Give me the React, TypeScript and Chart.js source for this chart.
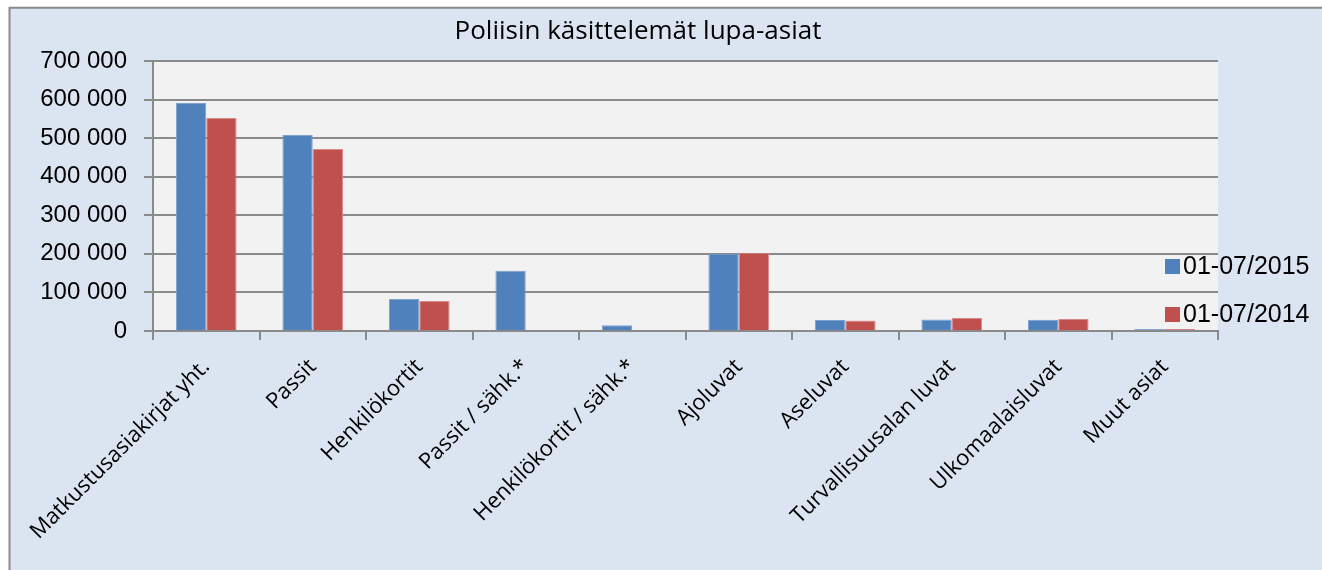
import React, { useEffect, useRef } from "react";
import { Chart, registerables } from "chart.js";

Chart.register(...registerables);

const TITLE = "Poliisin käsittelemät lupa-asiat";
const CATEGORIES = [
  "Matkustusasiakirjat yht.",
  "Passit",
  "Henkilökortit",
  "Passit / sähk.*",
  "Henkilökortit / sähk.*",
  "Ajoluvat",
  "Aseluvat",
  "Turvallisuusalan luvat",
  "Ulkomaalaisluvat",
  "Muut asiat",
];
const SERIES_LABELS = ["01-07/2015", "01-07/2014"];
const SERIES_2015 = [591000, 508000, 83000, 156000, 15000, 200000, 28500, 30000, 29000, 5000];
const SERIES_2014 = [552000, 472000, 78000, null, null, 203000, 27000, 34000, 31000, 5500];
const Y_MIN = 0;
const Y_MAX = 700000;
const Y_STEP = 100000;

const COLORS = ["#4f81bd", "#c0504d"];
const BORDERS = ["#7f9fcf", "#d98a88"];
const GRID = "#8a8a8a";

const fmt = (v: number) => String(v).replace(/\B(?=(\d{3})+(?!\d))/g, " ");

const backgroundPlugin = {
  id: "bgFrame",
  beforeDraw(chart: any) {
    const { ctx, width, height, chartArea } = chart;
    ctx.save();
    ctx.fillStyle = "#ffffff";
    ctx.fillRect(0, 0, width, height);
    ctx.fillStyle = "#dbe5f1";
    ctx.fillRect(9, 7.5, width, height);
    ctx.strokeStyle = "#8a8a8a";
    ctx.lineWidth = 2;
    ctx.beginPath();
    ctx.moveTo(9.5, height + 5);
    ctx.lineTo(9.5, 7.8);
    ctx.lineTo(width + 5, 7.8);
    ctx.stroke();
    ctx.fillStyle = "#f2f2f2";
    ctx.fillRect(chartArea.left, chartArea.top, chartArea.right - chartArea.left, chartArea.bottom - chartArea.top);
    ctx.restore();
  },
  afterDraw(chart: any) {
    const { ctx } = chart;
    ctx.save();
    ctx.fillStyle = "#000000";
    ctx.font = "26px 'Open Sans'";
    ctx.textAlign = "center";
    ctx.textBaseline = "alphabetic";
    ctx.fillText(TITLE, 638, 39);
    const ys = [266.5, 314.5];
    chart.data.datasets.forEach((ds: any, i: number) => {
      ctx.fillStyle = ds.backgroundColor;
      ctx.fillRect(1165, ys[i] - 7.5, 15, 15);
      ctx.fillStyle = "#000000";
      ctx.font = "25px 'Liberation Sans'";
      ctx.textAlign = "left";
      ctx.textBaseline = "middle";
      ctx.fillText(ds.label, 1183, ys[i] + 1);
    });
    ctx.restore();
  },
};

export default function App() {
  const ref = useRef<HTMLCanvasElement | null>(null);
  useEffect(() => {
    let chart: any = null;
    let cancelled = false;
    const build = () => {
      if (cancelled || !ref.current) return;
      chart = new Chart(ref.current, {
        type: "bar",
        data: {
          labels: CATEGORIES,
          datasets: [
            {
              label: SERIES_LABELS[0],
              data: SERIES_2015,
              backgroundColor: COLORS[0],
              borderColor: BORDERS[0],
              borderWidth: 1,
              barPercentage: 1,
              categoryPercentage: 0.57,
            },
            {
              label: SERIES_LABELS[1],
              data: SERIES_2014,
              backgroundColor: COLORS[1],
              borderColor: BORDERS[1],
              borderWidth: 1,
              barPercentage: 1,
              categoryPercentage: 0.57,
            },
          ],
        },
        options: {
          responsive: false,
          animation: false,
          devicePixelRatio: 1,
          layout: { padding: { left: 0, top: 61, right: 104, bottom: 0 } },
          plugins: {
            legend: { display: false },
            title: { display: false },
            tooltip: { enabled: false },
          },
          scales: {
            x: {
              grid: {
                display: true,
                drawOnChartArea: false,
                drawTicks: true,
                tickLength: 9,
                color: GRID,
                lineWidth: 2,
                offset: true,
              },
              border: { display: true, color: GRID, width: 2 },
              ticks: {
                autoSkip: false,
                minRotation: 45,
                maxRotation: 45,
                padding: 14,
                color: "#000000",
                font: { family: "'Open Sans'", size: 22 },
              },
              afterFit(scale: any) {
                scale.height = 239;
                scale.paddingLeft = 0;
                scale.paddingRight = 0;
              },
            },
            y: {
              min: Y_MIN,
              max: Y_MAX,
              grid: {
                color: GRID,
                lineWidth: 2,
                drawTicks: true,
                tickLength: 9,
              },
              border: { display: true, color: GRID, width: 2 },
              ticks: {
                stepSize: Y_STEP,
                padding: 17,
                color: "#000000",
                font: { family: "'Liberation Sans'", size: 24 },
                callback: (v: any) => fmt(Number(v)),
              },
              afterFit(scale: any) {
                scale.width = 153;
              },
            },
          },
        },
        plugins: [backgroundPlugin],
      });
    };
    const fontsApi: any = (document as any).fonts;
    if (fontsApi && fontsApi.load) {
      Promise.all([
        fontsApi.load("22px 'Open Sans'"),
        fontsApi.load("26px 'Open Sans'"),
        fontsApi.load("24px 'Liberation Sans'"),
      ])
        .catch(() => null)
        .then(build);
    } else {
      build();
    }
    return () => {
      cancelled = true;
      if (chart) chart.destroy();
    };
  }, []);
  return (
    <div style={{ position: "absolute", left: 0, top: 0, width: 1322, height: 570 }}>
      <canvas ref={ref} width={1322} height={570} style={{ display: "block" }} />
    </div>
  );
}
